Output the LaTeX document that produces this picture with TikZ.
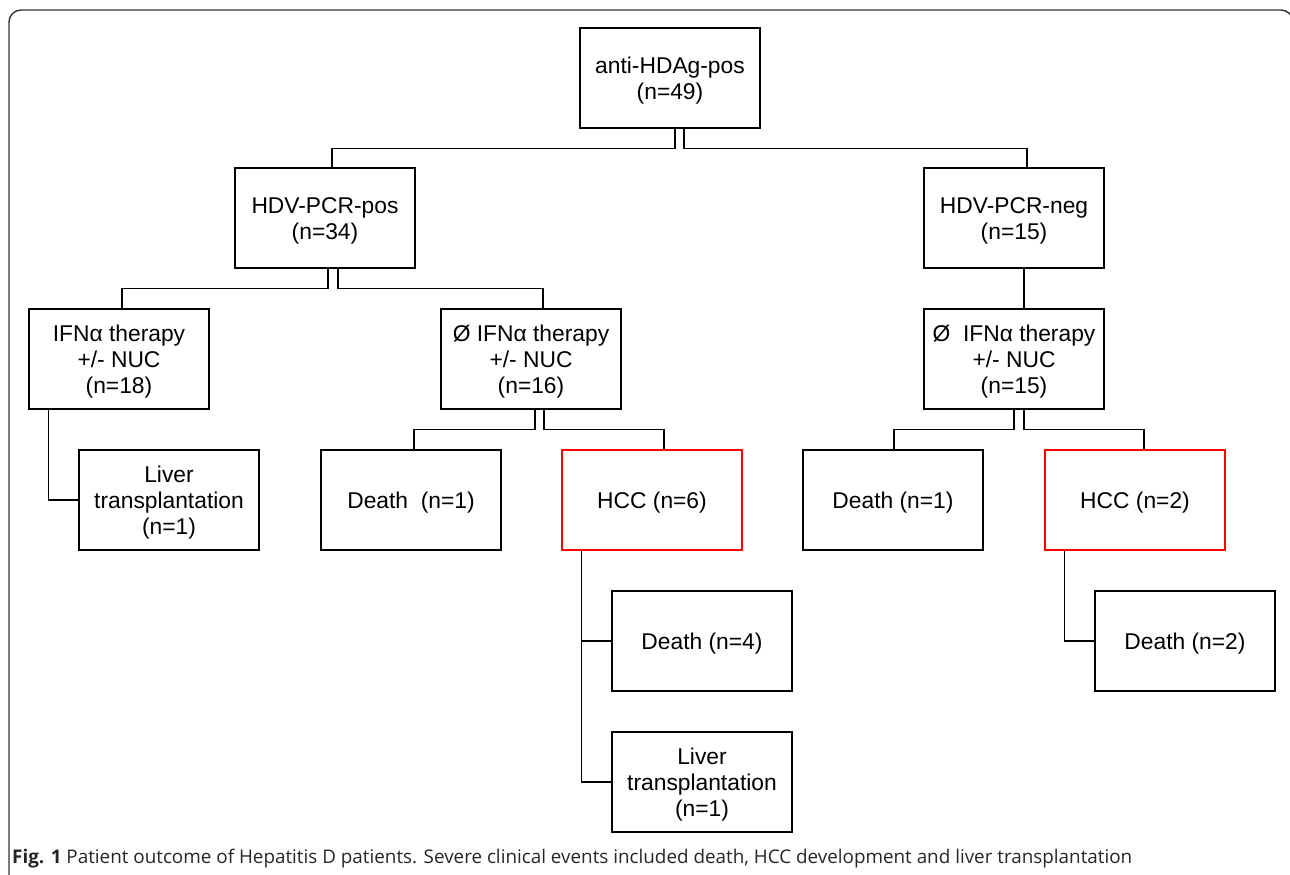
\documentclass[tikz,border=0pt]{standalone}
\usepackage{fontspec}
\setmainfont{Liberation Sans}
\newfontfamily\capfont{Open Sans}
\usetikzlibrary{calc}
\newcommand\bx[4]{\node[#1] (#2) at (#3) {};
  \node[lbl] (#2t) at ($(#2.center)+(0,3)$) {#4};}
\begin{document}
\begin{tikzpicture}[x=1pt,y=-1pt,
  box/.style={draw=black, line width=1.4pt, minimum width=180pt, minimum height=100pt, inner sep=0pt},
  redbox/.style={box, draw=red},
  lbl/.style={inner sep=0pt, align=center, font=\fontsize{22.8}{26}\selectfont},
  link/.style={draw=black, line width=1.4pt},
  frame/.style={draw=black!80, line width=1.4pt, rounded corners=12pt}]
\useasboundingbox (0,0) rectangle (1290,875);
\draw[frame] (9,890) -- (9,10) -- (1293,10) -- (1293,890);

% row 1
\bx{box}{top}{670,78}{anti-HDAg-pos\\(n=49)}
% row 2
\bx{box}{pos}{325,218}{HDV-PCR-pos\\(n=34)}
\bx{box}{neg}{1014,218}{HDV-PCR-neg\\(n=15)}
% row 3
\bx{box}{ifn}{119,359}{IFNα therapy\\+/- NUC\\(n=18)}
\bx{box}{noifnA}{531,359}{Ø IFNα therapy\\+/- NUC\\(n=16)}
\bx{box}{noifnB}{1014,359}{Ø\ \ IFNα therapy\\+/- NUC\\(n=15)}
% row 4
\bx{box}{livA}{169,500}{Liver\\transplantation\\(n=1)}
\bx{box}{deathA}{411,500}{Death\ \ (n=1)}
\bx{redbox}{hccA}{652,500}{HCC (n=6)}
\bx{box}{deathB}{893,500}{Death (n=1)}
\bx{redbox}{hccB}{1135,500}{HCC (n=2)}
% row 5
\bx{box}{deathC}{702,641}{Death (n=4)}
\bx{box}{deathD}{1185,641}{Death (n=2)}
% row 6
\bx{box}{livB}{702,782}{Liver\\transplantation\\(n=1)}

% connectors
\draw[link] ($(top.south)+(5,0)$) -- ++(0,20) -| ($(pos.north)+(7,0)$);
\draw[link] ($(top.south)+(14,0)$) -- ++(0,20) -| ($(neg.north)+(13,0)$);

\draw[link] ($(pos.south)+(3,0)$) -- ++(0,20) -| ($(ifn.north)+(3,0)$);
\draw[link] ($(pos.south)+(13,0)$) -- ++(0,20) -| ($(noifnA.north)+(12,0)$);

\draw[link] ($(neg.south)+(10,0)$) -- ($(noifnB.north)+(10,0)$);

\draw[link] ($(noifnA.south)+(4,0)$) -- ++(0,20) -| ($(deathA.north)+(3,0)$);
\draw[link] ($(noifnA.south)+(13,0)$) -- ++(0,20) -| ($(hccA.north)+(12,0)$);

\draw[link] ($(noifnB.south)+(0,0)$) -- ++(0,20) -| ($(deathB.north)+(1,0)$);
\draw[link] ($(noifnB.south)+(10,0)$) -- ++(0,20) -| ($(hccB.north)+(9,0)$);

\draw[link] ($(ifn.south west)+(20,0)$) |- (livA.west);
\draw[link] ($(hccA.south west)+(20,0)$) |- (deathC.west);
\draw[link] ($(hccA.south west)+(20,0)$) |- (livB.west);
\draw[link] ($(hccB.south west)+(20,0)$) |- (deathD.west);

% caption
\node[anchor=base west, inner sep=0pt, text=black!85] (cap) at (12,863)
  {\resizebox{1120pt}{!}{\capfont\fontsize{16}{18}\selectfont\textbf{Fig. 1} Patient outcome of Hepatitis D patients. Severe clinical events included death, HCC development and liver transplantation}};
\end{tikzpicture}
\end{document}
